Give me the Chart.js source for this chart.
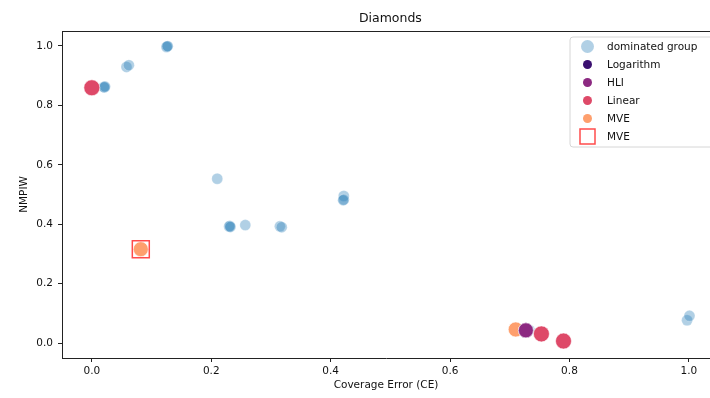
<!DOCTYPE html>
<html>
<head>
<meta charset="utf-8">
<script src="https://cdn.jsdelivr.net/npm/chart.js@4/dist/chart.umd.min.js"></script>
<style>
  html, body { margin: 0; padding: 0; background: #fff; overflow: hidden; }
  canvas { display: block; }
</style>
</head>
<body>
<canvas id="c" width="710" height="398" style="width:710px;height:398px"></canvas>
<script>
// Titles and tick values
const chartTitle = 'Diamonds';
const xTitle = 'Coverage Error (CE)';
const yTitle = 'NMPIW';
const xTicks = [0.0, 0.2, 0.4, 0.6, 0.8, 1.0];
const yTicks = [0.0, 0.2, 0.4, 0.6, 0.8, 1.0];

// Dominated configurations (coverage error, normalised interval width)
const dominatedX = [0.020, 0.021, 0.022, 0.058, 0.062, 0.125, 0.126, 0.127, 0.210,
                    0.230, 0.231, 0.232, 0.257, 0.315, 0.318, 0.422, 0.422, 0.421,
                    0.997, 1.001, 0.733];
const dominatedY = [0.862, 0.860, 0.863, 0.929, 0.935, 0.996, 0.998, 0.999, 0.553,
                    0.392, 0.394, 0.391, 0.397, 0.393, 0.390, 0.495, 0.483, 0.481,
                    0.077, 0.092, 0.044];

// Non-dominated configurations per transformation
const logarithmX = [0.727];
const logarithmY = [0.043];
const hliX = [0.727];
const hliY = [0.043];
const linearX = [0.000, 0.753, 0.790];
const linearY = [0.859, 0.031, 0.007];
const mveX = [0.082, 0.710];
const mveY = [0.316, 0.046];
// Highlighted MVE configuration
const mveBestX = [0.082];
const mveBestY = [0.316];

const legendLabels = ['dominated group', 'Logarithm', 'HLI', 'Linear', 'MVE', 'MVE'];

const FONT = "'DejaVu Sans', 'Liberation Sans', sans-serif";
const BLUE = 'rgba(31,119,180,0.35)';
const C_LOG = '#3b0f70', C_HLI = '#8c2981', C_LIN = '#de4968', C_MVE = '#fe9f6d';
const C_BOX = 'rgba(255,30,30,0.8)';

const pts = (xs, ys) => xs.map((x, i) => ({ x: x, y: ys[i] }));

// Top spine, title and legend drawn on top of the plot
const decor = {
  id: 'decor',
  afterDraw(chart) {
    const ctx = chart.ctx;
    const a = chart.chartArea;
    const xs = chart.scales.x;
    ctx.save();
    ctx.strokeStyle = '#222';
    ctx.lineWidth = 1;
    ctx.beginPath();
    ctx.moveTo(a.left, a.top + 0.5);
    ctx.lineTo(a.right, a.top + 0.5);
    ctx.stroke();

    // title centred on the full axes span (-0.05 .. 1.05)
    ctx.fillStyle = '#111';
    ctx.font = '12.5px ' + FONT;
    ctx.textAlign = 'center';
    ctx.textBaseline = 'middle';
    ctx.fillText(chartTitle, xs.getPixelForValue(0.5), 19);

    // legend
    const bx = 570, by = 37, bw = 150, bh = 110, r = 3;
    ctx.beginPath();
    ctx.moveTo(bx + r, by);
    ctx.arcTo(bx + bw, by, bx + bw, by + bh, r);
    ctx.arcTo(bx + bw, by + bh, bx, by + bh, r);
    ctx.arcTo(bx, by + bh, bx, by, r);
    ctx.arcTo(bx, by, bx + bw, by, r);
    ctx.closePath();
    ctx.fillStyle = 'rgba(255,255,255,0.85)';
    ctx.fill();
    ctx.strokeStyle = '#d6d6d6';
    ctx.stroke();

    const mx = 587.5, tx = 607, y0 = 46.5, dy = 18;
    const colors = [BLUE, C_LOG, C_HLI, C_LIN, C_MVE];
    legendLabels.forEach((lab, i) => {
      const y = y0 + i * dy;
      if (i < 5) {
        ctx.beginPath();
        ctx.arc(mx, y, i === 0 ? 6.5 : 4.5, 0, Math.PI * 2);
        ctx.fillStyle = colors[i];
        ctx.fill();
      } else {
        ctx.strokeStyle = C_BOX;
        ctx.lineWidth = 1.5;
        ctx.strokeRect(mx - 7.5, y - 7.5, 15, 15);
      }
      ctx.fillStyle = '#111';
      ctx.font = '10.5px ' + FONT;
      ctx.textAlign = 'left';
      ctx.textBaseline = 'middle';
      ctx.fillText(lab, tx, y + 0.5);
    });
    ctx.restore();
  }
};

const axisCommon = (ticks, max) => ({
  type: 'linear',
  min: -0.05,
  max: max,
  afterBuildTicks: (s) => { s.ticks = ticks.map(v => ({ value: v })); },
  grid: { display: true, drawOnChartArea: false, drawTicks: true, tickLength: 4, color: '#222', lineWidth: 1 },
  border: { display: true, color: '#222', width: 1 },
});

new Chart(document.getElementById('c'), {
  type: 'scatter',
  data: {
    datasets: [
      { label: 'dominated group', data: pts(dominatedX, dominatedY), backgroundColor: BLUE,
        borderColor: 'rgba(255,255,255,0.3)', borderWidth: 0.75, pointRadius: 5.5, order: 6 },
      { label: 'MVE', data: pts(mveX, mveY), backgroundColor: C_MVE,
        borderColor: 'rgba(255,255,255,0.8)', borderWidth: 0.75, pointRadius: 7.5, order: 5 },
      { label: 'Logarithm', data: pts(logarithmX, logarithmY), backgroundColor: C_LOG,
        borderColor: 'rgba(255,255,255,0.8)', borderWidth: 0.75, pointRadius: 7.5, order: 4 },
      { label: 'HLI', data: pts(hliX, hliY), backgroundColor: C_HLI,
        borderColor: 'rgba(255,255,255,0.8)', borderWidth: 0.75, pointRadius: 7.5, order: 3 },
      { label: 'Linear', data: pts(linearX, linearY), backgroundColor: C_LIN,
        borderColor: 'rgba(255,255,255,0.8)', borderWidth: 0.75, pointRadius: 8, order: 2 },
      { label: 'MVE', data: pts(mveBestX, mveBestY), backgroundColor: 'rgba(0,0,0,0)',
        borderColor: C_BOX, borderWidth: 1.5, pointStyle: 'rect', pointRadius: 12, order: 1 }
    ]
  },
  options: {
    responsive: false,
    maintainAspectRatio: false,
    animation: false,
    devicePixelRatio: 1,
    layout: { autoPadding: false, padding: { top: 31, right: 0, left: 0, bottom: 0 } },
    plugins: { legend: { display: false }, title: { display: false }, tooltip: { enabled: false } },
    scales: {
      x: Object.assign(axisCommon(xTicks, 1.0354), {
        position: 'bottom',
        afterFit: (s) => { s.height = 40; s.paddingLeft = 0; s.paddingRight = 0; },
        ticks: { padding: 3, color: '#111', font: { family: FONT, size: 10.5 }, callback: (v) => Number(v).toFixed(1), maxRotation: 0, autoSkip: false },
        title: { display: true, text: xTitle, color: '#111', font: { family: FONT, size: 10.5 }, padding: { top: 0, bottom: 6 } }
      }),
      y: Object.assign(axisCommon(yTicks, 1.05), {
        position: 'left',
        afterFit: (s) => { s.width = 62; s.paddingTop = 0; s.paddingBottom = 0; },
        ticks: { padding: 5, color: '#111', font: { family: FONT, size: 10.5 }, callback: (v) => Number(v).toFixed(1), autoSkip: false },
        title: { display: true, text: yTitle, color: '#111', font: { family: FONT, size: 10.5 }, padding: { top: 18, bottom: 0 } }
      })
    }
  },
  plugins: [decor]
});
</script>
</body>
</html>
